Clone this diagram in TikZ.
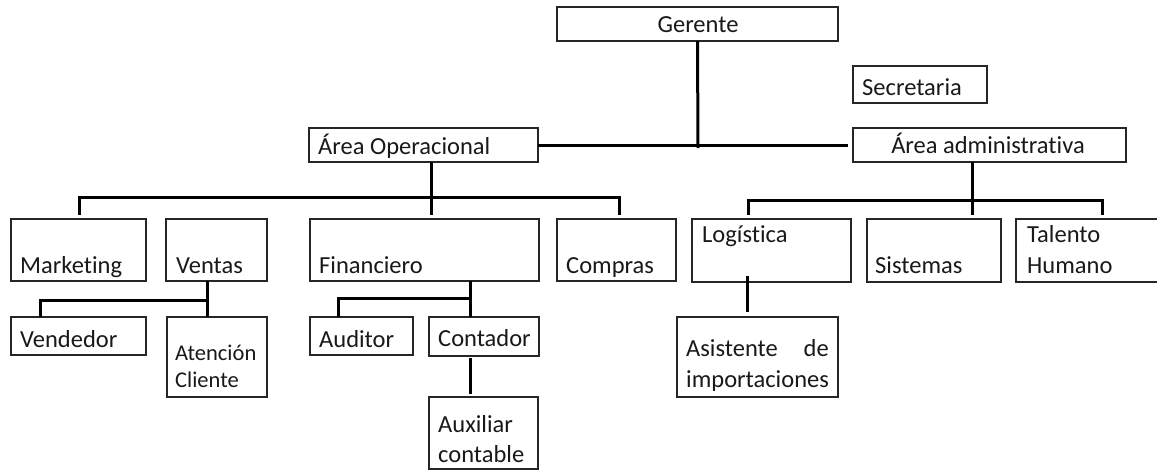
\documentclass[tikz,border=0pt]{standalone}
\usepackage{fontspec}
\setmainfont[Ligatures={NoCommon}]{Carlito}
\newcommand\mybox[5]{\node[box, minimum width={(#4-#2)*1pt}, minimum height={(#5-#3)*1pt}] (#1) at (#2,#3) {};}
\begin{document}
\begin{tikzpicture}[x=1pt,y=-1pt,
  box/.style={draw=black!85, line width=1.3pt, inner sep=0pt, outer sep=0pt, anchor=north west},
  lbl/.style={inner sep=0pt, anchor=base west, font=\fontsize{24.5}{29}\selectfont, text=black!90},
  lblc/.style={lbl, anchor=base},
  lbls/.style={lbl, font=\fontsize{22.5}{27}\selectfont},
  conn/.style={line width=3pt, black, line join=miter}]
\useasboundingbox (0,0) rectangle (1157,471);
\fill[white] (0,0) rectangle (1157,471);
% boxes
\mybox{ger}{557}{7}{838}{41}
\mybox{sec}{853}{66}{987}{103}
\mybox{aop}{309}{128}{538}{162}
\mybox{aad}{853}{128}{1126}{162}
\mybox{mkt}{11}{219}{146}{281}
\mybox{ven}{166}{219}{267}{281}
\mybox{fin}{310}{219}{539}{281}
\mybox{com}{557}{219}{676}{281}
\mybox{log}{692}{219}{851}{282}
\mybox{sis}{867}{219}{1001}{282}
\mybox{tal}{1016}{219}{1160}{282}
\mybox{vnd}{11}{317}{146}{355}
\mybox{ate}{167}{317}{267}{397}
\mybox{aud}{310}{317}{413}{355}
\mybox{con}{429}{317}{539}{356}
\mybox{aux}{429}{397}{538}{469}
\mybox{asi}{677}{317}{838}{397}
% texts
\node[lblc] (tger) at (698,32) {Gerente};
\node[lbl] (tsec) at (862,95) {Secretaria};
\node[lbl] (taop) at (318,154) {Área Operacional};
\node[lblc] (taad) at (988,153) {Área administrativa};
\node[lbl] (tmkt) at (20,273) {Marketing};
\node[lbl] (tven) at (176,273) {Ventas};
\node[lbl] (tfin) at (319,273) {Financiero};
\node[lbl] (tcom) at (566,273) {Compras};
\node[lbl] (tlog) at (702,242) {Logística};
\node[lbl] (tsis) at (875,273) {Sistemas};
\node[lbl] (tal1) at (1027,242) {Talento};
\node[lbl] (tal2) at (1027,273) {Humano};
\node[lbl] (tvnd) at (20,347) {Vendedor};
\node[lbls] (ate1) at (175,360) {Atención};
\node[lbls] (ate2) at (175,387) {Cliente};
\node[lbl] (taud) at (319,347) {Auditor};
\node[lbl] (tcon) at (438,346) {Contador};
\node[lbl] (aux1) at (438,432) {Auxiliar};
\node[lbl] (aux2) at (438,462) {contable};
\node[lbl] (asi1) at (686,356) {Asistente};
\node[lbl, anchor=base east] (asi2) at (829,356) {de};
\node[lbl] (asi3) at (686,387) {importaciones};
% junction coordinates
\coordinate (g1) at (698,148);
\coordinate (g2) at (848,145);
\coordinate (o1) at (431,197);
\coordinate (o2) at (431,215);
\coordinate (a1) at (972,200);
\coordinate (a2) at (972,215);
\coordinate (v1) at (207,300);
\coordinate (f1) at (470,298);
\coordinate (c1) at (470,358);
\coordinate (c2) at (470,394);
\coordinate (l1) at (747,276);
\coordinate (l2) at (747,312);
% connectors
\draw[conn] (ger.south) -- (g1);
\draw[conn] (aop.east) -- (g2);
\draw[conn] (aop.south -| o1) -- (o2);
\draw[conn] (79,215) -- (79,197) -- (619,197) -- (619,215);
\draw[conn] (aad.south -| a1) -- (a2);
\draw[conn] (748,215) -- (748,200) -- (1102,200) -- (1102,215);
\draw[conn] (ven.south -| v1) -- (vnd.north -| v1);
\draw[conn] (vnd.north -| 40,0) -- (40,300) -- (v1);
\draw[conn] (fin.south -| f1) -- (con.north -| f1);
\draw[conn] (aud.north -| 338,0) -- (338,298) -- (f1);
\draw[conn] (c1) -- (c2);
\draw[conn] (l1) -- (l2);
\end{tikzpicture}
\end{document}
